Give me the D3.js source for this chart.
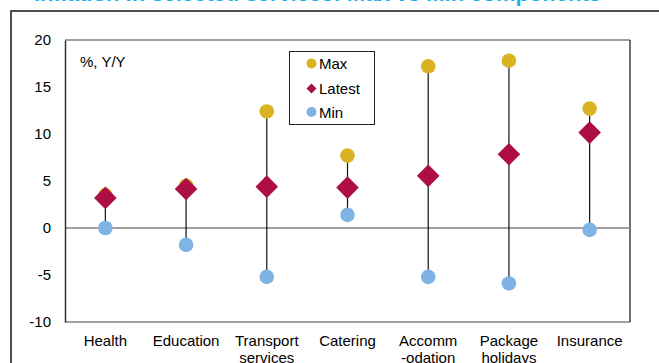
<!DOCTYPE html>
<html>
<head>
<meta charset="utf-8">
<script src="https://cdn.jsdelivr.net/npm/d3@7/dist/d3.min.js"></script>
<style>
  html, body { margin: 0; padding: 0; background: #fff; }
  svg { display: block; }
  text { font-family: "Liberation Sans", Arial, sans-serif; }
</style>
</head>
<body>
<script>
// ---- data ----
const categories = ["Health", "Education", "Transport services", "Catering", "Accomm -odation", "Package holidays", "Insurance"];
const categoryLines = [["Health"], ["Education"], ["Transport", "services"], ["Catering"], ["Accomm", "-odation"], ["Package", "holidays"], ["Insurance"]];
const maxValues    = [3.5, 4.5, 12.4, 7.7, 17.2, 17.8, 12.7];
const latestValues = [3.2, 4.15, 4.4, 4.3, 5.55, 7.85, 10.15];
const minValues    = [0.0, -1.8, -5.2, 1.4, -5.2, -5.9, -0.2];
const yTicks = [-10, -5, 0, 5, 10, 15, 20];
const seriesNames = ["Max", "Latest", "Min"];
const titleText = "Inflation in selected services: Max vs Min components";
const unitLabel = "%, Y/Y";

const W = 659, H = 363;
const colMax = "#D9B321", colLatest = "#AE0E46", colMin = "#7EB3E4";

const svg = d3.select("body").append("svg").attr("width", W).attr("height", H);

// outer frame
svg.append("rect").attr("x", 11).attr("y", 11).attr("width", 700).attr("height", 400)
  .attr("fill", "none").attr("stroke", "#222").attr("stroke-width", 1.6);

// title (mostly cropped)
svg.append("text").attr("x", 34).attr("y", 1.3)
  .attr("textLength", 567).attr("lengthAdjust", "spacingAndGlyphs")
  .attr("font-size", 22).attr("font-weight", "bold").attr("fill", "#1AB0EE")
  .text(titleText);

const pL = 65, pR = 630, pT = 40, pB = 322;
const x = d3.scaleBand().domain(categories).range([pL, pR]).padding(0);
const y = d3.scaleLinear().domain([-10, 20]).range([pB, pT]);
const cx = c => x(c) + x.bandwidth() / 2;

// plot border
const g = svg.append("g");
g.append("line").attr("x1", pL).attr("x2", pR).attr("y1", pT).attr("y2", pT).attr("stroke", "#808080").attr("stroke-width", 1.5);
g.append("line").attr("x1", pL).attr("x2", pR).attr("y1", pB).attr("y2", pB).attr("stroke", "#808080").attr("stroke-width", 1.5);
g.append("line").attr("x1", pR).attr("x2", pR).attr("y1", pT).attr("y2", pB).attr("stroke", "#111").attr("stroke-width", 1.2);

// zero line
g.append("line").attr("x1", pL).attr("x2", pR).attr("y1", y(0)).attr("y2", y(0)).attr("stroke", "#808080").attr("stroke-width", 1.5);

// y axis
const yAxis = d3.axisLeft(y).tickValues(yTicks).tickSize(0).tickPadding(14).tickFormat(d => String(d));
const ya = svg.append("g").attr("transform", `translate(${pL},0)`).call(yAxis);
ya.select(".domain").attr("stroke", "#333").attr("stroke-width", 1.5);
ya.selectAll("text").attr("font-size", 15).attr("fill", "#000").attr("font-family", "Liberation Sans, Arial, sans-serif");

// x labels
const xl = svg.append("g");
categories.forEach((c, i) => {
  const t = xl.append("text").attr("x", cx(c)).attr("y", 346).attr("text-anchor", "middle")
    .attr("font-size", 15).attr("fill", "#000");
  categoryLines[i].forEach((ln, j) => {
    t.append("tspan").attr("x", cx(c)).attr("dy", j === 0 ? 0 : 17).text(ln);
  });
});

// unit label
svg.append("text").attr("x", 80).attr("y", 67).attr("font-size", 15).attr("fill", "#000").text(unitLabel);

// stems
categories.forEach((c, i) => {
  svg.append("line").attr("x1", cx(c)).attr("x2", cx(c))
    .attr("y1", y(minValues[i])).attr("y2", y(maxValues[i]))
    .attr("stroke", "#111").attr("stroke-width", 1.2);
});

const diamond = (px, py, h) => `M${px},${py - h}L${px + h},${py}L${px},${py + h}L${px - h},${py}Z`;

// max
svg.append("g").selectAll("circle").data(categories).join("circle")
  .attr("cx", d => cx(d)).attr("cy", (d, i) => y(maxValues[i])).attr("r", 7.3).attr("fill", colMax);
// min
svg.append("g").selectAll("circle").data(categories).join("circle")
  .attr("cx", d => cx(d)).attr("cy", (d, i) => y(minValues[i])).attr("r", 7.3).attr("fill", colMin);
// latest
svg.append("g").selectAll("path").data(categories).join("path")
  .attr("d", (d, i) => diamond(cx(d), y(latestValues[i]), 11.3)).attr("fill", colLatest);

// legend
const lg = svg.append("g");
lg.append("rect").attr("x", 289.5).attr("y", 51.5).attr("width", 85).attr("height", 73)
  .attr("fill", "#fff").attr("stroke", "#222").attr("stroke-width", 1);
const ly = [63.5, 88.5, 112];
seriesNames.forEach((s, i) => {
  if (i === 1) lg.append("path").attr("d", diamond(311.5, ly[i], 5)).attr("fill", colLatest);
  else lg.append("circle").attr("cx", 311.5).attr("cy", ly[i]).attr("r", 5).attr("fill", i === 0 ? colMax : colMin);
  lg.append("text").attr("x", 319).attr("y", ly[i] + 5.5).attr("font-size", 15).attr("fill", "#000").text(s);
});
</script>
</body>
</html>
